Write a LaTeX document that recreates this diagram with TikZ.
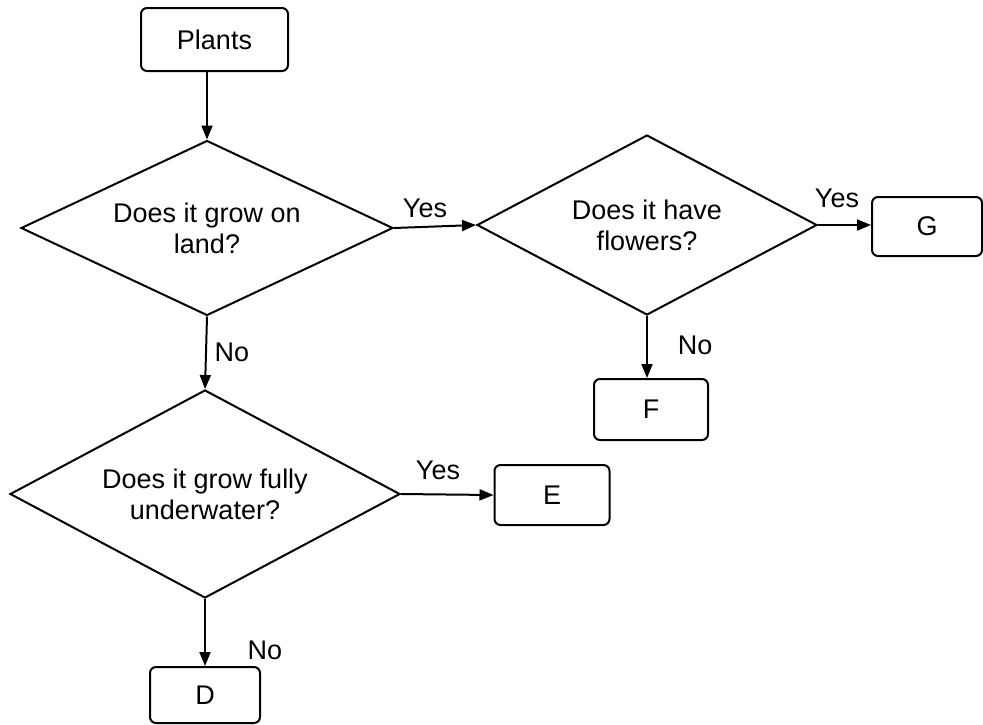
\documentclass[tikz,border=0pt]{standalone}
\usepackage{fontspec}
\setmainfont{Liberation Sans}
\usetikzlibrary{shapes.geometric,arrows.meta}
\tikzset{
  box/.style={draw,line width=1pt,rounded corners=3pt,inner sep=0pt},
  question/.style={draw,diamond,aspect=2.1,line width=1pt,inner sep=0pt,align=center},
  lbl/.style={inner sep=0pt}
}
\begin{document}
\begin{tikzpicture}[x=0.5pt,y=-0.5pt,font=\fontsize{13.5}{15.5}\selectfont]
      \useasboundingbox (0,0) rectangle (983,724);
      \draw
        (214.5,39.5) node[box,minimum width=73.5pt,minimum height=31.5pt] (plants){Plants}
        (207,228) node[question,minimum width=186pt,minimum height=87.5pt] (land){Does it grow on\\land?}
        (647,225) node[question,minimum width=170pt,minimum height=90pt] (flowers){Does it have\\flowers?}
        (205,494) node[question,minimum width=195pt,minimum height=104pt] (water){Does it grow fully\\underwater?}
        (927,226.5) node[box,minimum width=55pt,minimum height=29.5pt] (g){G}
        (651,409.5) node[box,minimum width=57pt,minimum height=30.5pt] (f){F}
        (552,495) node[box,minimum width=57.5pt,minimum height=30pt] (e){E}
        (205,695) node[box,minimum width=55pt,minimum height=28pt] (d){D};
      \draw
        (425,208) node[lbl] (yes1){Yes}
        (837,198) node[lbl] (yes2){Yes}
        (438,470) node[lbl] (yes3){Yes}
        (695,345) node[lbl] (no1){No}
        (232,352) node[lbl] (no2){No}
        (265,650) node[lbl] (no3){No};
      \begin{scope}[line width=1pt,-{Triangle[length=7pt,width=5.5pt]}]
        \draw (land.north |- plants.south) to (land.north);
        \draw (land.east) to (flowers.west);
        \draw (flowers.east) to (g.west |- flowers.east);
        \draw (flowers.south) to (flowers.south |- f.north);
        \draw (land.south) to (water.north);
        \draw (water.east) to (e.west);
        \draw (water.south) to (d.north);
      \end{scope}
    \end{tikzpicture}
\end{document}
